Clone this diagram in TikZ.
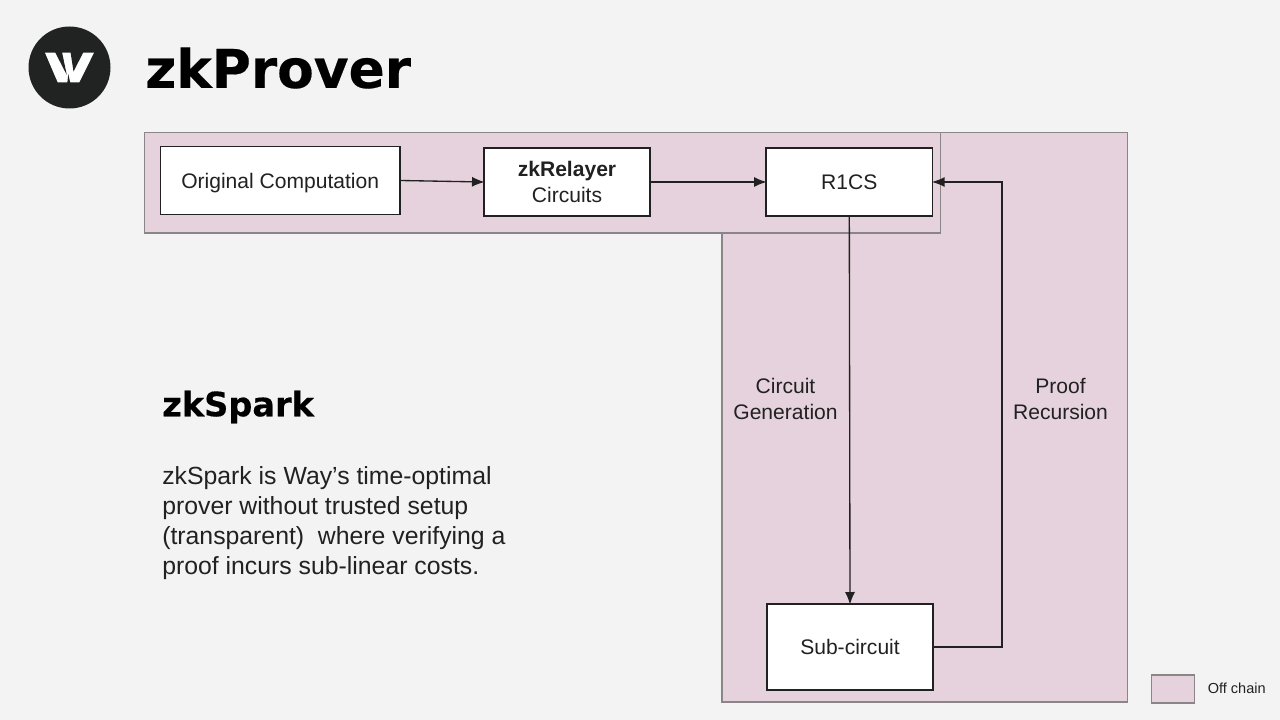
\documentclass[tikz,border=0pt]{standalone}
\usepackage{fontspec}
\setmainfont{Liberation Sans}
\newfontfamily\boldfam[FakeBold=0.35]{DejaVu Sans Bold}
\usetikzlibrary{arrows.meta}
\definecolor{bgc}{HTML}{F3F3F3}
\definecolor{zonefill}{HTML}{E6D2DC}
\definecolor{zoneline}{HTML}{8A8688}
\definecolor{ink}{HTML}{212121}
\definecolor{logoc}{HTML}{212322}
\tikzset{
  x=0.75pt,y=-0.75pt,
  zone/.style={draw=zoneline,fill=zonefill,line width=1.3pt},
  boxn/.style={draw=ink,fill=white,line width=1pt,inner sep=0pt,font=\fontsize{15.8}{19.5}\selectfont,text=ink,align=center},
  lab/.style={font=\fontsize{15.8}{19.5}\selectfont,text=ink,align=center,inner sep=0pt},
  conn/.style={draw=ink,line width=1pt,shorten >=-1pt,-{Latex[length=9.5pt,width=7.5pt]}},
}
\begin{document}
\begin{tikzpicture}
\useasboundingbox (0,0) rectangle (1280,720);
\fill[bgc] (0,0) rectangle (1280,720);
% logo
\fill[logoc] (69.5,67.5) circle[radius=41];
\fill[white] (45,52.7) -- (94,52.7) -- (79.3,82.3) -- (57.7,82.3) -- cycle;
\fill[logoc] (55,52) -- (62,52) -- (66.8,75) -- cycle;
\fill[logoc] (70.5,52) -- (83.5,52) -- (73.5,71.5) -- cycle;
\fill[logoc] (67.3,83) -- (70.3,83) -- (68.3,74) -- cycle;
\node[anchor=west,inner sep=0pt,font=\boldfam\fontsize{40}{50}\selectfont,text=black] (title) at (145,68) {zkProver};
% zones
\node[zone,minimum width=405.5*0.75pt,minimum height=569.5*0.75pt,anchor=north west,inner sep=0pt] (zoneb) at (721,131.7) {};
\node[zone,minimum width=796*0.75pt,minimum height=100.5*0.75pt,anchor=north west,inner sep=0pt] (zonea) at (143.6,131.7) {};
% boxes
\node[boxn,minimum width=239.5*0.75pt,minimum height=68.5*0.75pt,text depth=0pt] (orig) at (280.2,180.5) {Original Computation};
\node[boxn,minimum width=166*0.75pt,minimum height=68*0.75pt] (relayer) at (567,182) {\textbf{zkRelayer}\\Circuits};
\node[boxn,minimum width=166.5*0.75pt,minimum height=68*0.75pt] (r1cs) at (849.3,182) {R1CS};
\node[boxn,minimum width=166*0.75pt,minimum height=86*0.75pt] (sub) at (850,647) {Sub-circuit};
% connectors
\draw[conn] (orig.east) -- (relayer.west);
\draw[conn] (relayer.east) -- (r1cs.west);
\draw[conn] (r1cs.south) -- (sub.north);
\draw[conn] (sub.east) -- (1002,647) -- (1002,182) -- (r1cs.east);
% labels
\node[lab] (cg) at (785.5,399) {Circuit\\Generation};
\node[lab] (pr) at (1060.5,399) {Proof\\Recursion};
\node[anchor=west,inner sep=0pt,font=\boldfam\fontsize{25.2}{30}\selectfont,text=black] (spark) at (162,407) {zkSpark};
\node[anchor=north west,inner sep=0pt,align=left,font=\fontsize{18.6}{22.5}\selectfont,text=ink] (para) at (162,466.5) {zkSpark is Way’s time-optimal\\prover without trusted setup\\(transparent)\ \ where verifying a\\proof incurs sub-linear costs.};
% legend
\node[zone,minimum width=43*0.75pt,minimum height=28*0.75pt,inner sep=0pt] (leg) at (1173,689) {};
\node[anchor=west,inner sep=0pt,font=\fontsize{10.9}{13}\selectfont,text=ink] (legt) at (1207.5,688) {Off chain};
\end{tikzpicture}
\end{document}
